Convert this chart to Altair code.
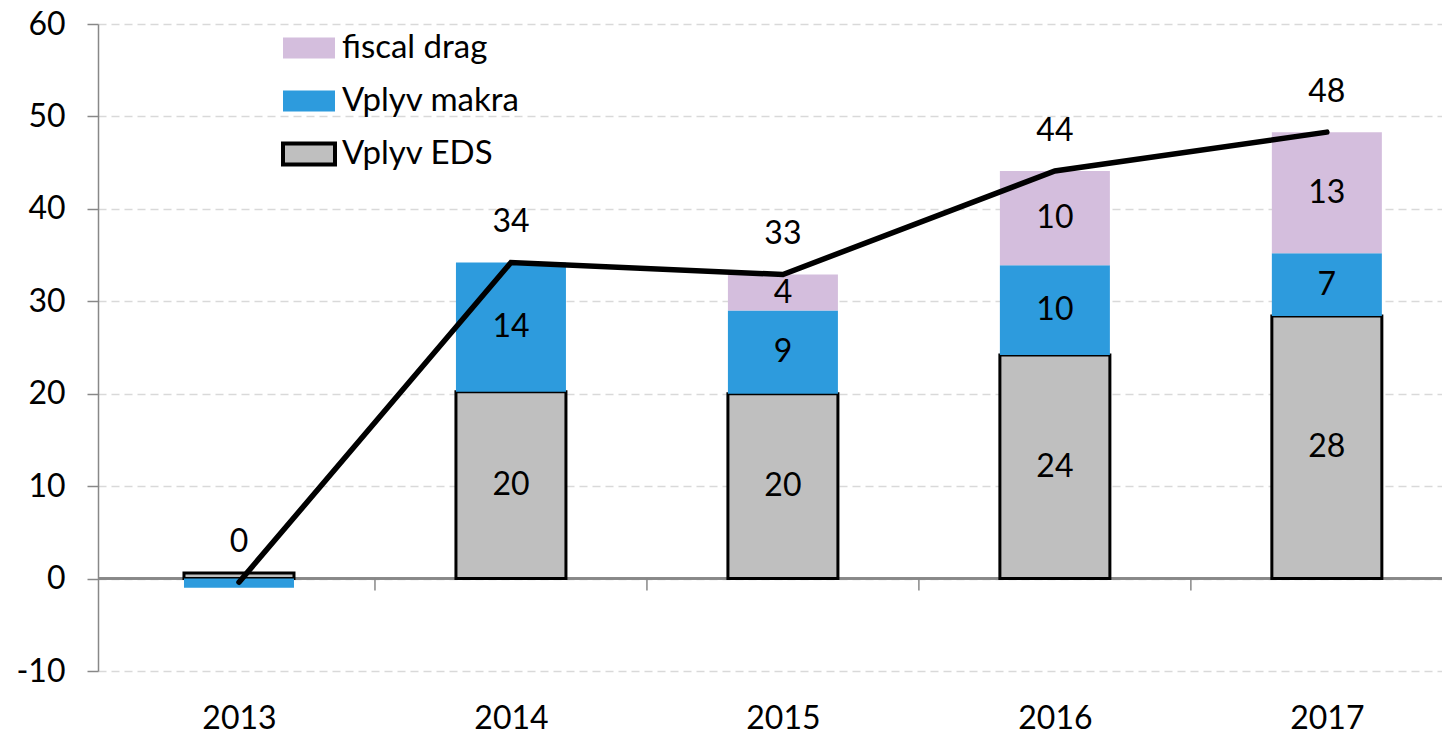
import altair as alt
import pandas as pd

years = [2013, 2014, 2015, 2016, 2017]
eds = [0.6, 20.2, 20.0, 24.2, 28.4]
makra = [-1.0, 14.0, 9.0, 9.7, 6.8]
fiscal = [0.0, 0.0, 3.9, 10.2, 13.1]
total = [-0.4, 34.2, 32.9, 44.1, 48.3]

series_names = ["fiscal drag", "Vplyv makra", "Vplyv EDS"]
series_colors = ["#D4BEDD", "#2D9BDD", "#BFBFBF"]
series_strokes = ["transparent", "transparent", "#000000"]
y_ticks = [-10, 0, 10, 20, 30, 40, 50, 60]

FONT = "Lato"
FS = 32

rows = []
for i, yr in enumerate(years):
    base = 0.0
    for name, vals, order in [("Vplyv EDS", eds, 0), ("Vplyv makra", makra, 1), ("fiscal drag", fiscal, 2)]:
        v = vals[i]
        mid = None
        if v > 0:
            mid = base + v / 2
            base += v
        rows.append({"year": yr, "series": name, "value": v, "ord": order,
                     "mid": mid, "label": str(round(v)) if v >= 2 else ""})
df = pd.DataFrame(rows)
lab_df = df[df["label"] != ""]

tot_df = pd.DataFrame({"year": years, "total": total,
                       "label": [str(round(t)) for t in total]})
bnd_df = pd.DataFrame({"b": [y + 0.5 for y in years[:-1]]})

xscale = alt.Scale(domain=[2012.5, 2017.405], nice=False, zero=False)
yscale = alt.Scale(domain=[-10, 60], nice=False)

x_enc = alt.X("year:Q", scale=xscale,
              axis=alt.Axis(values=years, format="d", title=None, domain=False, ticks=False,
                            grid=False, labelFontSize=FS, labelFont=FONT, labelColor="#000",
                            labelPadding=32))

base_y_axis = alt.Axis(values=y_ticks, title=None, grid=True, gridDash=[8, 5], gridColor="#D9D9D9",
                       gridWidth=1.5, domainColor="#888888", domainWidth=1.5, tickColor="#888888",
                       tickWidth=1.5, tickSize=11, labelFontSize=FS, labelFont=FONT,
                       labelColor="#000", labelPadding=22, labelExpr="datum.value + ''")

leg = alt.Legend(title=None, orient="none", legendX=183, legendY=-4,
                 symbolType="M-1,-0.4H1V0.4H-1Z", symbolSize=2704,
                 symbolStrokeWidth=4, labelFontSize=33, labelFont=FONT,
                 labelColor="#000", labelOffset=5, rowPadding=6, labelLimit=0,
                 symbolOpacity=1)

bars = alt.Chart(df).mark_bar(size=110, strokeWidth=3).encode(
    x=x_enc,
    y=alt.Y("value:Q", stack="zero", scale=yscale, axis=base_y_axis),
    color=alt.Color("series:N", scale=alt.Scale(domain=series_names, range=series_colors), legend=leg),
    stroke=alt.Stroke("series:N", scale=alt.Scale(domain=series_names, range=series_strokes), legend=leg),
    order=alt.Order("ord:Q"),
)

zero = alt.Chart(tot_df).mark_rule(color="#888888", strokeWidth=2).encode(y=alt.datum(0))

btick = alt.Chart(bnd_df).mark_rule(color="#888888", strokeWidth=1.5).encode(
    x=alt.X("b:Q", scale=xscale), y=alt.datum(0), y2=alt.datum(-1.3))

line = alt.Chart(tot_df).mark_line(color="#000000", strokeWidth=5.5, strokeCap="round").encode(
    x=alt.X("year:Q", scale=xscale), y=alt.Y("total:Q", scale=yscale))

tot_text = alt.Chart(tot_df).mark_text(dy=-40, fontSize=FS, font=FONT, color="#000").encode(
    x=alt.X("year:Q", scale=xscale), y=alt.Y("total:Q", scale=yscale), text="label:N")

seg_text = alt.Chart(lab_df).mark_text(fontSize=FS, font=FONT, color="#000", baseline="middle").encode(
    x=alt.X("year:Q", scale=xscale), y=alt.Y("mid:Q", scale=yscale), text="label:N")

chart = alt.layer(zero, bars, btick, line, tot_text, seg_text).properties(
    width=1344, height=647,
    autosize=alt.AutoSizeParams(type="none"),
    padding={"left": 90, "top": 16, "right": 0, "bottom": 63},
).configure_view(stroke=None)

chart.save("out.html", embed_options={"renderer": "svg", "actions": False})
